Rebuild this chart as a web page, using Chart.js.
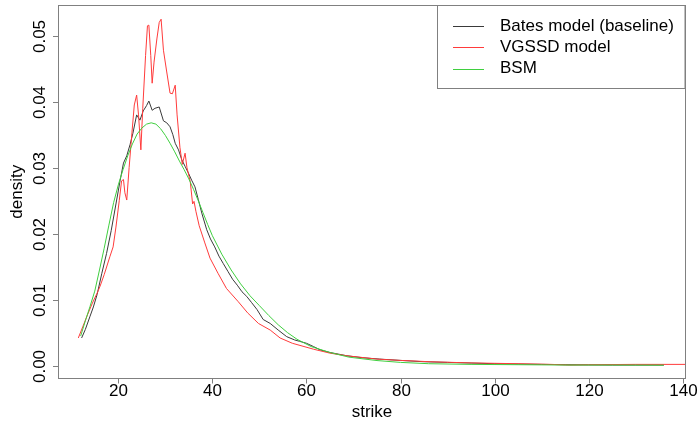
<!DOCTYPE html>
<html lang="en">
<head>
<meta charset="utf-8">
<script src="https://cdn.jsdelivr.net/npm/chart.js@4"></script>
<style>
  html, body { margin: 0; padding: 0; background: #fff; }
  #wrap { width: 697px; height: 427px; }
</style>
</head>
<body>
<div id="wrap"><canvas id="chartCanvas" width="697" height="427"></canvas></div>
<script>
// --- data ---
const seriesNames = ['Bates model (baseline)', 'VGSSD model', 'BSM'];

const batesX = [12.2, 13, 14, 14.7, 15.5, 16.5, 17.5, 18.5, 19.5, 20.4, 21.1, 21.8, 22.5, 23.1, 23.9, 24.6, 25.3, 26, 26.5, 27.2, 27.8, 28.7, 29.6, 30.3, 31, 31.6, 32.1, 32.8, 33.5, 34.2, 34.9, 35.6, 36.3, 37, 37.8, 38.8, 39.6, 40.5, 41.4, 42.3, 43.3, 44.3, 45.3, 46.3, 47.3, 48.3, 49.5, 50.8, 52.3, 54, 55.8, 57.5, 58.5, 60, 61.5, 62.9, 65, 68.6, 72, 75.6, 80, 85, 90, 95, 100, 105, 110, 115, 120, 125, 130, 136];
const batesY = [0.0042, 0.0055, 0.0075, 0.0089, 0.0108, 0.0140, 0.0170, 0.0205, 0.0245, 0.0281, 0.0307, 0.0318, 0.0335, 0.0352, 0.0380, 0.0372, 0.0386, 0.0394, 0.0401, 0.0387, 0.0390, 0.0392, 0.0371, 0.0368, 0.0362, 0.0350, 0.0337, 0.0327, 0.0312, 0.0302, 0.0292, 0.0281, 0.0271, 0.0252, 0.0230, 0.0206, 0.0192, 0.0180, 0.0166, 0.0155, 0.0143, 0.0131, 0.0122, 0.0112, 0.0105, 0.0096, 0.0085, 0.0070, 0.0064, 0.0054, 0.0044, 0.0039, 0.0037, 0.0034, 0.0029, 0.0024, 0.0020, 0.0015, 0.0012, 0.0010, 0.0008, 0.0006, 0.0005, 0.0004, 0.0003, 0.00025, 0.0002, 0.00015, 0.00012, 0.0001, 0.0001, 0.0001];

const vgssdX = [11.5, 12.5, 13.5, 14.5, 15.5, 16.1, 17, 18.2, 18.9, 19.5, 20.2, 20.7, 21.1, 21.4, 21.8, 22.3, 22.9, 23.4, 23.9, 24.3, 24.8, 25.2, 25.8, 26.2, 26.5, 26.9, 27.2, 27.6, 28.2, 28.7, 29.1, 29.6, 30.3, 31, 31.5, 32.1, 32.5, 33.1, 33.6, 34.2, 34.6, 35.3, 35.8, 36.1, 36.5, 37.2, 38.4, 39.5, 41.2, 43, 45.5, 47.5, 49.8, 52.3, 54.4, 57, 61.5, 65, 68.6, 75, 80, 86.3, 95, 105, 112, 116, 120, 130, 141];
const vgssdY = [0.0042, 0.0060, 0.0078, 0.0095, 0.0110, 0.0120, 0.0138, 0.0165, 0.0180, 0.0210, 0.0250, 0.0280, 0.0282, 0.0262, 0.0251, 0.0300, 0.0353, 0.0395, 0.0410, 0.0380, 0.0327, 0.0390, 0.0470, 0.0515, 0.0516, 0.0470, 0.0428, 0.0460, 0.0495, 0.0520, 0.0525, 0.0478, 0.0445, 0.0413, 0.0412, 0.0425, 0.0380, 0.0331, 0.0305, 0.0322, 0.0300, 0.0279, 0.0245, 0.0249, 0.0234, 0.0212, 0.0186, 0.0163, 0.0140, 0.0117, 0.0097, 0.0080, 0.0064, 0.0054, 0.0042, 0.0034, 0.0025, 0.0019, 0.0015, 0.0010, 0.0008, 0.0006, 0.00042, 0.0003, 0.0002, 0.0001, 0.00015, 0.0002, 0.0002];

const bsmX = [12, 13, 14, 15, 16, 17, 18, 19, 20, 21, 22, 23, 24, 25, 26, 27, 28, 29, 30, 31, 32, 33, 34, 35, 36, 37, 38, 39, 40, 42, 44, 46, 48, 50, 52, 54, 56, 58, 61, 65, 69, 75, 80, 86, 95, 105, 115, 125, 136];
const bsmY = [0.0045, 0.0068, 0.0090, 0.0113, 0.0145, 0.0178, 0.0213, 0.0247, 0.0274, 0.0297, 0.0318, 0.0336, 0.0351, 0.0360, 0.0366, 0.0368, 0.0366, 0.0359, 0.0349, 0.0337, 0.0324, 0.0310, 0.0297, 0.0283, 0.0267, 0.0250, 0.0232, 0.0214, 0.0197, 0.0169, 0.0145, 0.0124, 0.0106, 0.0091, 0.0076, 0.0062, 0.0050, 0.0040, 0.0029, 0.0020, 0.0013, 0.00078, 0.0005, 0.0003, 0.0002, 0.00015, 0.0001, 0.0001, 0.00008];

const xTicks = [20, 40, 60, 80, 100, 120, 140];
const yTicks = [0.00, 0.01, 0.02, 0.03, 0.04, 0.05];

const lineColors = ['#3a3a3a', '#ff3b3b', '#3fcf3f'];
const FONT = '17px "Liberation Sans", Arial, sans-serif';

function toPoints(xs, ys) {
  return xs.map((x, i) => ({ x: x, y: ys[i] }));
}

// R style axes, box and legend
const rAxes = {
  id: 'rAxes',
  afterDraw(chart) {
    const ctx = chart.ctx;
    const a = chart.chartArea;
    const xs = chart.scales.x, ys = chart.scales.y;
    ctx.save();
    ctx.strokeStyle = '#808080';
    ctx.lineWidth = 1;
    ctx.strokeRect(Math.round(a.left) + 0.5, Math.round(a.top) + 0.5,
      Math.round(a.right - a.left) - 1, Math.round(a.bottom - a.top) - 1);

    ctx.fillStyle = '#000';
    ctx.font = FONT;
    // x ticks
    ctx.textAlign = 'center';
    ctx.textBaseline = 'middle';
    xTicks.forEach(v => {
      const px = Math.round(xs.getPixelForValue(v)) + 0.5;
      ctx.beginPath();
      ctx.moveTo(px, a.bottom);
      ctx.lineTo(px, a.bottom + 5);
      ctx.stroke();
      ctx.fillText(String(v), px, a.bottom + 13);
    });
    ctx.fillText('strike', (a.left + a.right) / 2, a.bottom + 34);

    // y ticks (rotated labels)
    yTicks.forEach(v => {
      const py = Math.round(ys.getPixelForValue(v)) + 0.5;
      ctx.beginPath();
      ctx.moveTo(a.left, py);
      ctx.lineTo(a.left - 5, py);
      ctx.stroke();
      ctx.save();
      ctx.translate(a.left - 18, py);
      ctx.rotate(-Math.PI / 2);
      ctx.fillText(v.toFixed(2), 0, 0);
      ctx.restore();
    });
    ctx.save();
    ctx.translate(17, (a.top + a.bottom) / 2);
    ctx.rotate(-Math.PI / 2);
    ctx.fillText('density', 0, 0);
    ctx.restore();

    // legend box
    const lx = 437.5, ly = a.top + 0.5;
    ctx.strokeRect(lx, ly, a.right - 1 - lx, 83);
    ctx.textAlign = 'left';
    seriesNames.forEach((name, i) => {
      const y = 26 + i * 21.3;
      ctx.fillStyle = lineColors[i];
      ctx.fillRect(453, Math.round(y), 31, 1);
      ctx.fillStyle = '#000';
      ctx.fillText(name, 500, y);
    });
    ctx.restore();
  }
};

const ctx = document.getElementById('chartCanvas').getContext('2d');
new Chart(ctx, {
  type: 'scatter',
  data: {
    datasets: [
      { label: seriesNames[0], data: toPoints(batesX, batesY), borderColor: lineColors[0], order: 3 },
      { label: seriesNames[1], data: toPoints(vgssdX, vgssdY), borderColor: lineColors[1], order: 2 },
      { label: seriesNames[2], data: toPoints(bsmX, bsmY), borderColor: lineColors[2], order: 1 }
    ]
  },
  options: {
    responsive: false,
    animation: false,
    devicePixelRatio: 1,
    showLine: true,
    elements: {
      point: { radius: 0, hoverRadius: 0 },
      line: { borderWidth: 1, tension: 0, fill: false }
    },
    layout: { padding: { top: 5, right: 11, left: 0, bottom: 0 } },
    plugins: { legend: { display: false }, tooltip: { enabled: false } },
    scales: {
      x: {
        type: 'linear', min: 7.18, max: 140.7,
        grid: { display: false }, border: { display: false },
        ticks: { display: false },
        afterFit: s => { s.height = 48.5; }
      },
      y: {
        type: 'linear', min: -0.00194, max: 0.05465,
        grid: { display: false }, border: { display: false },
        ticks: { display: false },
        afterFit: s => { s.width = 58; }
      }
    }
  },
  plugins: [rAxes]
});
</script>
</body>
</html>
